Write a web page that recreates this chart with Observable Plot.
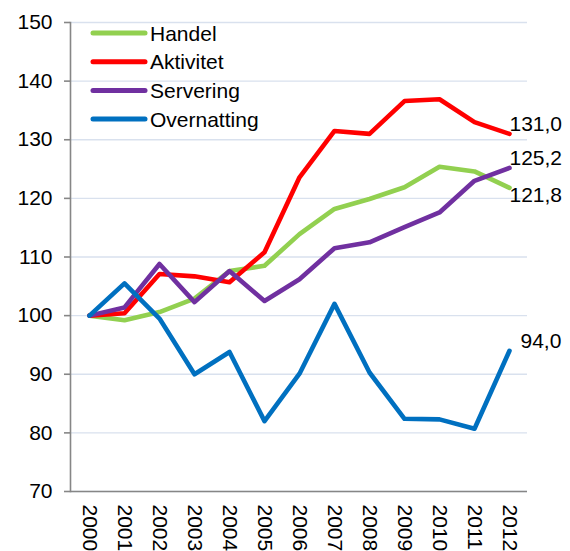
<!DOCTYPE html>
<html>
<head>
<meta charset="utf-8">
<script src="https://cdn.jsdelivr.net/npm/d3@7"></script>
<script src="https://cdn.jsdelivr.net/npm/@observablehq/plot@0.6"></script>
<style>
  html, body { margin: 0; padding: 0; background: #fff; }
  #chart { position: relative; width: 570px; height: 551px; }
  svg { font-family: "Liberation Sans", Arial, sans-serif; }
</style>
</head>
<body>
<div id="chart"></div>
<script>
const years = ["2000","2001","2002","2003","2004","2005","2006","2007","2008","2009","2010","2011","2012"];
const seriesNames = ["Handel", "Aktivitet", "Servering", "Overnatting"];
const handel      = [100, 99.2, 100.6, 102.9, 107.6, 108.5, 113.9, 118.2, 119.9, 121.9, 125.4, 124.6, 121.8];
const aktivitet   = [100, 100.4, 107.1, 106.7, 105.7, 110.8, 123.6, 131.5, 131.0, 136.6, 136.9, 133.0, 131.0];
const servering   = [100, 101.4, 108.8, 102.3, 107.6, 102.5, 106.2, 111.5, 112.5, 115.1, 117.6, 123.0, 125.2];
const overnatting = [100, 105.5, 99.5, 90.0, 93.8, 82.0, 90.1, 102.0, 90.3, 82.4, 82.3, 80.7, 94.0];
const yTicks = [70, 80, 90, 100, 110, 120, 130, 140, 150];

const valuesBySeries = [handel, aktivitet, servering, overnatting];
const colors = ["#92d050", "#ff0000", "#7030a0", "#0070c0"];
const FS = 21;
// end-label offsets (style, not data)
const labelOffsets = {
  Handel: {dx: 0, dy: 7},
  Aktivitet: {dx: 0, dy: -10},
  Servering: {dx: 0, dy: -10},
  Overnatting: {dx: 11, dy: -10}
};

const table = [];
seriesNames.forEach((s, si) => {
  years.forEach((y, yi) => table.push({series: s, year: y, value: valuesBySeries[si][yi]}));
});
const fmt = v => v.toFixed(1).replace(".", ",");

const marks = [
  Plot.gridY(yTicks, {stroke: "#d9e1ee", strokeOpacity: 1, strokeWidth: 1.3}),
  Plot.ruleY([70], {stroke: "#868686", strokeWidth: 1.6}),
  Plot.axisY(yTicks, {tickSize: 6, tickPadding: 12, fontSize: FS, stroke: "#868686", strokeWidth: 1.6, fill: "#000", label: null}),
  Plot.axisX({tickSize: 0, tickPadding: 13, tickRotate: 90, fontSize: FS, fill: "#000", label: null}),
  Plot.frame({anchor: "left", stroke: "#868686", strokeWidth: 1.6}),
];
seriesNames.forEach((s, si) => {
  marks.push(Plot.line(table.filter(d => d.series === s), {
    x: "year", y: "value", stroke: colors[si], strokeWidth: 4.6,
    strokeLinejoin: "round", strokeLinecap: "round"
  }));
});
seriesNames.forEach((s, si) => {
  const o = labelOffsets[s];
  marks.push(Plot.text(table.filter(d => d.series === s && d.year === years[years.length - 1]), {
    x: "year", y: "value", text: d => fmt(d.value), textAnchor: "start",
    dx: o.dx, dy: o.dy, fontSize: FS, fill: "#000"
  }));
});

const plot = Plot.plot({
  width: 570,
  height: 551,
  marginLeft: 70,
  marginRight: 43,
  marginTop: 22,
  marginBottom: 60,
  style: {fontFamily: "'Liberation Sans', Arial, sans-serif", background: "#fff", overflow: "visible"},
  x: {type: "point", domain: years, padding: 0.5, axis: null},
  y: {domain: [70, 150], axis: null},
  marks
});
document.getElementById("chart").appendChild(plot);

// legend drawn inside the plot area, top-left
const svg = d3.select(plot);
const lg = svg.append("g").attr("font-size", FS).attr("text-anchor", "start")
  .attr("font-family", "'Liberation Sans', Arial, sans-serif");
seriesNames.forEach((s, i) => {
  const yy = 33 + i * 28.7;
  lg.append("line").attr("x1", 93).attr("x2", 145).attr("y1", yy).attr("y2", yy)
    .attr("stroke", colors[i]).attr("stroke-width", 5).attr("stroke-linecap", "round");
  lg.append("text").attr("x", 150).attr("y", yy).attr("dy", "0.36em").attr("fill", "#000").text(s);
});
</script>
</body>
</html>
